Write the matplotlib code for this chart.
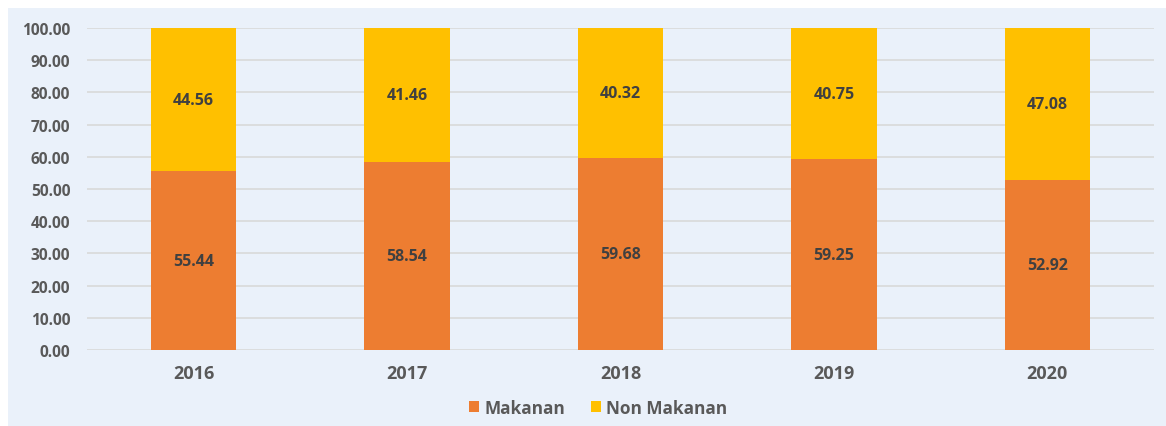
import matplotlib.pyplot as plt
from matplotlib.patches import Rectangle

plt.rcParams['font.family'] = ['Open Sans', 'DejaVu Sans']

years = ["2016", "2017", "2018", "2019", "2020"]
makanan = [55.44, 58.54, 59.68, 59.25, 52.92]
non_makanan = [44.56, 41.46, 40.32, 40.75, 47.08]
yticks = [0, 10, 20, 30, 40, 50, 60, 70, 80, 90, 100]

W, H = 1166, 427
fig = plt.figure(figsize=(W / 100, H / 100), dpi=100)
fig.patch.set_facecolor("white")
bg = "#EAF1FA"
fig.patches.append(Rectangle((8 / W, 0), 1 - 8 / W, 1 - 9 / H, transform=fig.transFigure,
                             facecolor=bg, edgecolor="none", zorder=-10))

ax = fig.add_axes([87 / W, 1 - 351 / H, (1154 - 87) / W, (351 - 29) / H])
ax.set_zorder(1)
ax.patch.set_alpha(0)

x = range(len(years))
c1, c2 = "#ED7D31", "#FFC000"
b1 = ax.bar(x, makanan, width=0.4, color=c1, label="Makanan", zorder=3)
b2 = ax.bar(x, non_makanan, width=0.4, bottom=makanan, color=c2, label="Non Makanan", zorder=3)

for i in x:
    ax.text(i, makanan[i] / 2, f"{makanan[i]:.2f}", ha="center", va="center",
            fontsize=11.5, fontweight="bold", color="#404040", zorder=4)
    ax.text(i, makanan[i] + non_makanan[i] / 2, f"{non_makanan[i]:.2f}", ha="center", va="center",
            fontsize=11.5, fontweight="bold", color="#404040", zorder=4)

ax.set_xlim(-0.5, len(years) - 0.5)
ax.set_ylim(0, 100)
ax.set_yticks(yticks)
ax.set_yticklabels([f"{v:.2f}" for v in yticks], fontsize=11.2, fontweight="bold", color="#595959")
ax.set_xticks(list(x))
ax.set_xticklabels(years, fontsize=13, fontweight="bold", color="#595959")
ax.tick_params(axis="both", length=0)
ax.tick_params(axis="y", pad=12)
ax.tick_params(axis="x", pad=10)
ax.grid(axis="y", color="#D9D9D9", linewidth=1.2, zorder=1)
ax.set_axisbelow(True)
for s in ax.spines.values():
    s.set_visible(False)

leg = fig.legend(handles=[b1, b2], loc="center", bbox_to_anchor=(0.513, 1 - 409 / H), ncol=2,
                 frameon=False, fontsize=12.4, handlelength=0.6, handleheight=0.6,
                 columnspacing=1.5, handletextpad=0.3)
for t in leg.get_texts():
    t.set_color("#595959")
    t.set_fontweight("bold")

fig.savefig("out.png", dpi=100)
